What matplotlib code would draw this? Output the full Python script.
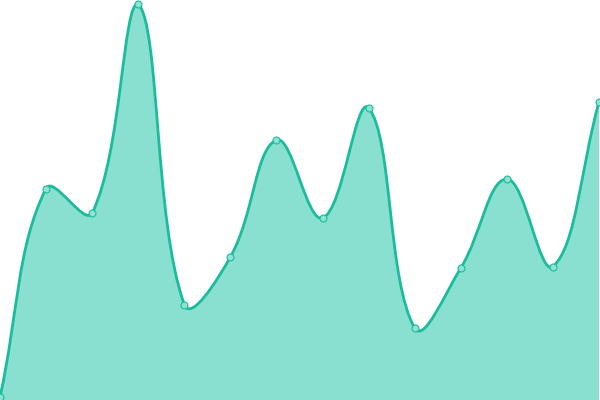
import numpy as np
import matplotlib
matplotlib.use("Agg")
import matplotlib.pyplot as plt
from matplotlib.path import Path
from matplotlib.patches import PathPatch

# values (one point per step)
steps = list(range(14))
values = [3, 211.5, 187, 396, 95.5, 143, 260, 182, 292, 72, 132, 221, 133.5, 298]

line_col = '#1abc9c'
fill_col = '#8ae0d0'
tension = 0.4

W, H = 600, 400
fig = plt.figure(figsize=(W/100, H/100), dpi=100)
ax = fig.add_axes([0, 0, 1, 1])
xmax = 13 * 600 / 599.0
ax.set_xlim(0, xmax)
ax.set_ylim(0, 400)
ax.axis('off')

# pixel scale so control points are found like a canvas spline
sx = W / xmax
sy = H / 400.0
px = np.array(steps, float) * sx
py = np.array(values, float) * sy

n = len(px)
cp_prev = []
cp_next = []
for i in range(n):
    p0 = (px[max(i-1, 0)], py[max(i-1, 0)])
    p1 = (px[i], py[i])
    p2 = (px[min(i+1, n-1)], py[min(i+1, n-1)])
    d01 = np.hypot(p1[0]-p0[0], p1[1]-p0[1])
    d12 = np.hypot(p2[0]-p1[0], p2[1]-p1[1])
    s01 = d01 / (d01 + d12) if d01 + d12 else 0
    s12 = d12 / (d01 + d12) if d01 + d12 else 0
    fa = tension * s01
    fb = tension * s12
    a = (p1[0] - fa*(p2[0]-p0[0]), p1[1] - fa*(p2[1]-p0[1]))
    b = (p1[0] + fb*(p2[0]-p0[0]), p1[1] + fb*(p2[1]-p0[1]))
    # keep inside the chart area
    a = (min(max(a[0], 0), W), min(max(a[1], 0), H))
    b = (min(max(b[0], 0), W), min(max(b[1], 0), H))
    cp_prev.append(a)
    cp_next.append(b)

verts = [(px[0]/sx, py[0]/sy)]
codes = [Path.MOVETO]
for i in range(1, n):
    verts += [(cp_next[i-1][0]/sx, cp_next[i-1][1]/sy),
              (cp_prev[i][0]/sx, cp_prev[i][1]/sy),
              (px[i]/sx, py[i]/sy)]
    codes += [Path.CURVE4]*3

area = Path(verts + [(steps[-1], 0), (steps[0], 0), verts[0]],
            codes + [Path.LINETO, Path.LINETO, Path.CLOSEPOLY])
ax.add_patch(PathPatch(area, facecolor=fill_col, edgecolor='none', zorder=1))
ax.add_patch(PathPatch(Path(verts, codes), facecolor='none', edgecolor=line_col,
                       lw=2.0, zorder=2, capstyle='round', joinstyle='round'))

ax.plot(steps, values, linestyle='none', marker='o', markersize=5,
        markerfacecolor='#8ee3d2', markeredgecolor=line_col, markeredgewidth=0.8,
        zorder=3)

fig.savefig('out.png', dpi=100)
